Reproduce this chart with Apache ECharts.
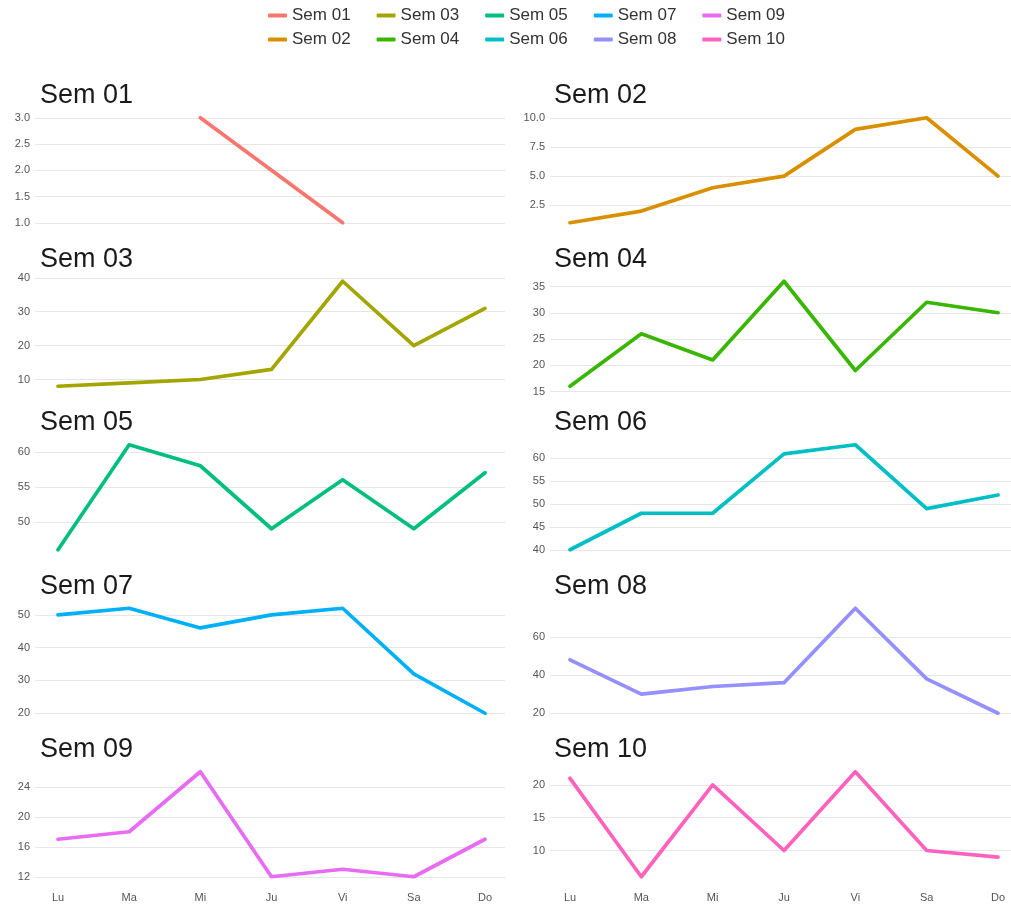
<!DOCTYPE html>
<html>
<head>
<meta charset="utf-8">
<script src="https://cdn.jsdelivr.net/npm/echarts@6/dist/echarts.min.js"></script>
<style>
html,body{margin:0;padding:0;background:#fff;}
#chart{width:1011px;height:907px;}
</style>
</head>
<body>
<div id="chart"></div>
<script>
const days = ['Lu', 'Ma', 'Mi', 'Ju', 'Vi', 'Sa', 'Do'];
const weeks = ['Sem 01', 'Sem 02', 'Sem 03', 'Sem 04', 'Sem 05', 'Sem 06', 'Sem 07', 'Sem 08', 'Sem 09', 'Sem 10'];
const colors = ['#F8766D', '#D89000', '#A3A500', '#39B600', '#00BF7D', '#00BFC4', '#00B0F6', '#9590FF', '#E76BF3', '#FF62BC'];

const sem01 = [null, null, 3, 2, 1, null, null];
const sem02 = [1, 2, 4, 5, 9, 10, 5];
const sem03 = [8, 9, 10, 13, 39, 20, 31];
const sem04 = [16, 26, 21, 36, 19, 32, 30];
const sem05 = [46, 61, 58, 49, 56, 49, 57];
const sem06 = [40, 48, 48, 61, 63, 49, 52];
const sem07 = [50, 52, 46, 50, 52, 32, 20];
const sem08 = [48, 30, 34, 36, 75, 38, 20];
const sem09 = [17, 18, 26, 12, 13, 12, 17];
const sem10 = [21, 6, 20, 10, 22, 10, 9];

const ticks01 = [1.0, 1.5, 2.0, 2.5, 3.0];
const ticks02 = [2.5, 5.0, 7.5, 10.0];
const ticks03 = [10, 20, 30, 40];
const ticks04 = [15, 20, 25, 30, 35];
const ticks05 = [50, 55, 60];
const ticks06 = [40, 45, 50, 55, 60];
const ticks07 = [20, 30, 40, 50];
const ticks08 = [20, 40, 60];
const ticks09 = [12, 16, 20, 24];
const ticks10 = [10, 15, 20];

const series_values = [sem01, sem02, sem03, sem04, sem05, sem06, sem07, sem08, sem09, sem10];
const tick_values = [ticks01, ticks02, ticks03, ticks04, ticks05, ticks06, ticks07, ticks08, ticks09, ticks10];
const decimals = [1, 1, 0, 0, 0, 0, 0, 0, 0, 0];

const FONT = 'Liberation Sans, Arial, sans-serif';
const grids = [], xAxes = [], yAxes = [], series = [], titles = [];

weeks.forEach(function (w, i) {
  const col = i % 2, row = Math.floor(i / 2);
  const top = 112.5 + 163.5 * row;
  const h = 115.5;
  const vals = series_values[i].filter(v => v !== null);
  const lo = Math.min.apply(null, vals), hi = Math.max.apply(null, vals);
  const pad = (hi - lo) * 0.05;
  const ymin = lo - pad, ymax = hi + pad;
  const dec = decimals[i];

  // background grid: gridlines + y labels
  grids.push({ left: col ? 550 : 35, width: col ? 461 : 470, top: top, height: h });
  // foreground grid: the line
  grids.push({ left: col ? 570 : 58, width: col ? 428 : 427, top: top, height: h });

  xAxes.push({ gridIndex: 2 * i, type: 'value', min: 0, max: 1, show: false });
  yAxes.push({
    gridIndex: 2 * i, type: 'value', min: ymin, max: ymax,
    axisLine: { show: false },
    axisTick: { show: false, customValues: tick_values[i] },
    axisLabel: {
      customValues: tick_values[i], fontSize: 11, color: '#555555', fontFamily: FONT, margin: 5,
      formatter: function (v) { return Number(v).toFixed(dec); }
    },
    splitLine: { show: true, lineStyle: { color: '#e6e6e6', width: 1 } }
  });

  xAxes.push({
    gridIndex: 2 * i + 1, type: 'category', data: days, boundaryGap: false,
    axisLine: { show: false }, axisTick: { show: false }, splitLine: { show: false },
    axisLabel: { show: row === 4, fontSize: 11, color: '#555555', fontFamily: FONT, margin: 10 }
  });
  yAxes.push({ gridIndex: 2 * i + 1, type: 'value', min: ymin, max: ymax, show: false, splitLine: { show: false } });

  series.push({
    name: w, type: 'line', xAxisIndex: 2 * i + 1, yAxisIndex: 2 * i + 1,
    data: series_values[i], symbol: 'none', connectNulls: false,
    itemStyle: { color: colors[i] },
    lineStyle: { color: colors[i], width: 3.7, cap: 'round', join: 'round' }
  });

  titles.push({
    text: w, left: col ? 554 : 40, top: top - 30, padding: 0,
    textStyle: { fontSize: 27, fontWeight: 'normal', color: '#1a1a1a', fontFamily: FONT }
  });
});

const legendCommon = {
  left: 268, orient: 'horizontal', icon: 'roundRect', itemWidth: 19, itemHeight: 4,
  itemGap: 26, itemTextGap: 11, padding: 0,
  textStyle: { fontSize: 17, color: '#333333', fontFamily: FONT }
};

const option = {
  animation: false,
  backgroundColor: '#ffffff',
  color: colors,
  title: titles,
  legend: [
    Object.assign({}, legendCommon, { top: 7, data: ['Sem 01', 'Sem 03', 'Sem 05', 'Sem 07', 'Sem 09'] }),
    Object.assign({}, legendCommon, { top: 31, data: ['Sem 02', 'Sem 04', 'Sem 06', 'Sem 08', 'Sem 10'] })
  ],
  grid: grids,
  xAxis: xAxes,
  yAxis: yAxes,
  series: series
};

const chart = echarts.init(document.getElementById('chart'), null, { renderer: 'canvas' });
chart.setOption(option);
</script>
</body>
</html>
